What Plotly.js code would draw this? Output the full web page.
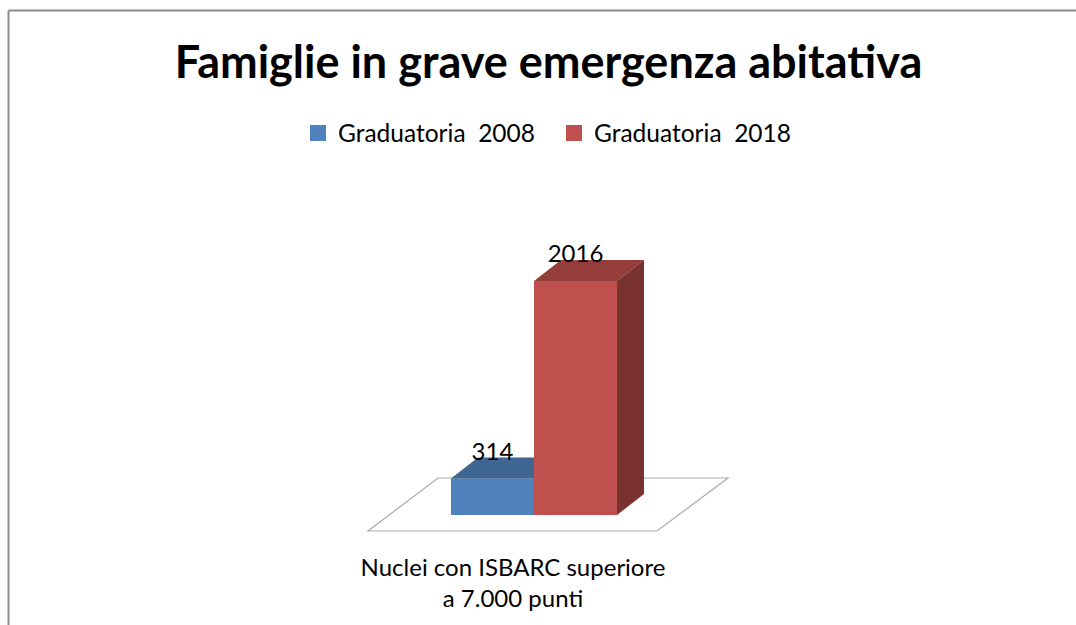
<!DOCTYPE html>
<html><head><meta charset="utf-8">
<script src="https://cdn.plot.ly/plotly-3.0.1.min.js"></script>
<style>html,body{margin:0;padding:0;background:#fff}#c{width:1076px;height:625px}</style>
</head><body><div id="c"></div>
<script>
const chartTitle = "Famiglie in grave emergenza abitativa";
const categoryLabel = "Nuclei con ISBARC superiore<br>a 7.000 punti";
const seriesNames = ["Graduatoria\u00a0 2008", "Graduatoria\u00a0 2018"];
const values = [314, 2016];
const frontColors = ["#4F81BD", "#C0504D"];
const topColors = ["#3F6592", "#953D3B"];
const sideColors = ["#3A5C85", "#7A3230"];

const W = 1076, H = 625, FONT = "Lato, Carlito, sans-serif";
const pxPerX = 290, pxPerY = 234 / 2016, originX = 534, originY = 515;
const barW = 83 / pxPerX, depthX = 27 / pxPerX, depthY = 21 / pxPerY;
const lefts = [-barW, 0];

const traces = [];
values.forEach((v, i) => {
  traces.push({type: "bar", x: [0], y: [v], width: [barW], offset: [lefts[i]], name: seriesNames[i],
    showlegend: false, legendgroup: "s" + i, marker: {color: frontColors[i], line: {width: 0}}, hoverinfo: "name+y"});
});
values.forEach((v, i) => {
  const l = lefts[i], r = l + barW;
  // the top face of the first bar is hidden by the second bar beyond its left edge
  const backR = i === 0 ? r : r + depthX;
  traces.push({type: "scatter", mode: "lines", x: [l, l + depthX, backR, r, l], y: [v, v + depthY, v + depthY, v, v],
    fill: "toself", fillcolor: topColors[i], line: {width: 0}, showlegend: false, hoverinfo: "skip"});
  if (i === 1) traces.push({type: "scatter", mode: "lines", x: [r, r + depthX, r + depthX, r, r], y: [0, depthY, v + depthY, v, 0],
    fill: "toself", fillcolor: sideColors[i], line: {width: 0}, showlegend: false, hoverinfo: "skip"});
});
traces.push({type: "scatter", mode: "text", x: lefts.map(l => l + barW / 2), y: values.map(v => v + 25 / pxPerY),
  text: values.map(String), textposition: "middle center", textfont: {family: FONT, size: 24, color: "#000"},
  showlegend: false, hoverinfo: "skip"});
seriesNames.forEach((n, i) => traces.push({type: "scatter", mode: "markers", x: [null], y: [null], name: n,
  marker: {symbol: "square", size: 16, color: frontColors[i]}, showlegend: true, hoverinfo: "skip"}));

const fx = px => (px - originX) / pxPerX, fy = px => (originY - px) / pxPerY;
const floorPts = [[368, 531], [657, 531], [728, 478], [438, 478]];
const floorPath = "M" + floorPts.map(p => fx(p[0]) + "," + fy(p[1])).join("L") + "Z";

Plotly.newPlot("c", traces, {
  width: W, height: H, margin: {l: 0, r: 0, t: 0, b: 0}, paper_bgcolor: "#fff", plot_bgcolor: "rgba(0,0,0,0)",
  font: {family: FONT, color: "#000"},
  title: {text: "<b>" + chartTitle + "</b>", font: {family: FONT, size: 45, color: "#000"},
    x: 548.5 / W, xanchor: "center", y: 1 - 62 / H, yanchor: "middle"},
  showlegend: true,
  legend: {orientation: "h", x: 298 / W, xanchor: "left", y: 1 - 133 / H, yanchor: "middle", bgcolor: "rgba(0,0,0,0)",
    font: {family: FONT, size: 24.5, color: "#000"}, entrywidth: 211, entrywidthmode: "pixels", itemsizing: "trace", traceorder: "normal"},
  xaxis: {type: "linear", range: [fx(0), fx(W)], tickmode: "array", tickvals: [fx(513)], ticktext: [categoryLabel],
    anchor: "free", position: 1 - 551 / H,
    ticks: "", showgrid: false, zeroline: false, showline: false,
    tickfont: {family: FONT, size: 24, color: "#000"}, fixedrange: true},
  yaxis: {range: [fy(H), fy(0)], visible: false, fixedrange: true},
  shapes: [
    {type: "path", xref: "x", yref: "y", layer: "below", path: floorPath, line: {color: "#ABABAB", width: 1.2}},
    {type: "line", xref: "paper", yref: "paper", x0: 8.5 / W, x1: 1, y0: 1 - 10.5 / H, y1: 1 - 10.5 / H, line: {color: "#8C8C8C", width: 2}},
    {type: "line", xref: "paper", yref: "paper", x0: 8.5 / W, x1: 8.5 / W, y0: 0, y1: 1 - 10.5 / H, line: {color: "#8C8C8C", width: 2}}
  ]
}, {staticPlot: true, displayModeBar: false});
</script></body></html>
